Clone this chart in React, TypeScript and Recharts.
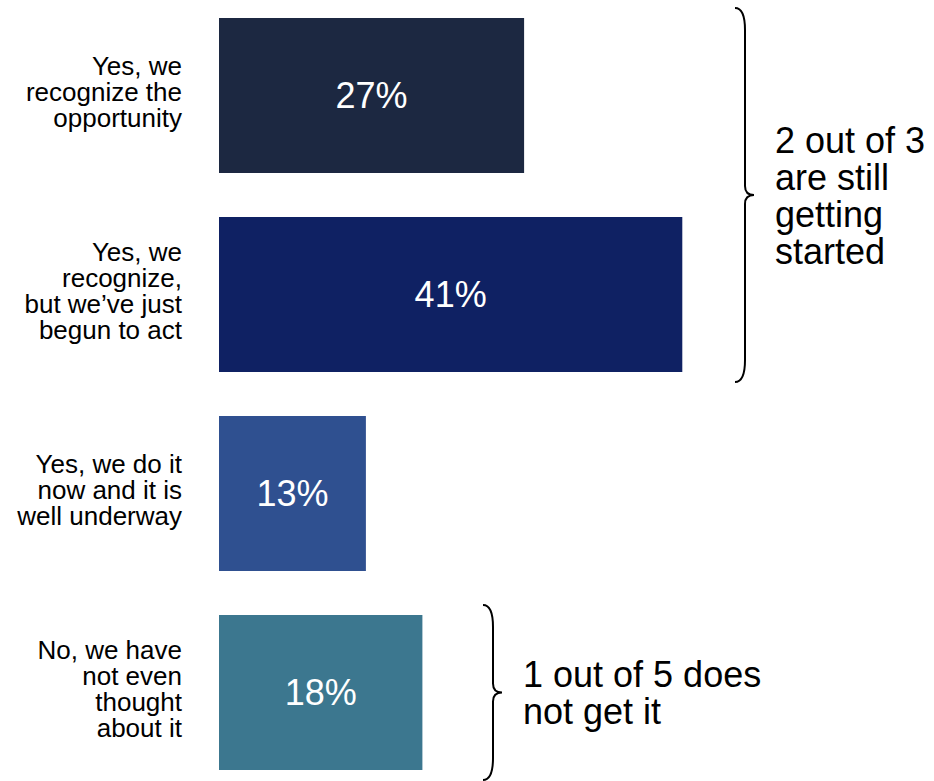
import { BarChart, Bar, XAxis, YAxis, LabelList, Cell } from "recharts";

const categories = [
  "Yes, we\nrecognize the\nopportunity",
  "Yes, we\nrecognize,\nbut we\u2019ve just\nbegun to act",
  "Yes, we do it\nnow and it is\nwell underway",
  "No, we have\nnot even\nthought\nabout it",
];
const shares = [27, 41, 13, 18];
const barColors = ["#1c2841", "#0f2163", "#2f5090", "#3c778f"];

// which bars each brace covers, and what it says
const braceTexts = [
  ["2 out of 3", "are still", "getting", "started"],
  ["1 out of 5 does", "not get it"],
];
const braceSpans = [
  [0, 1],
  [3, 3],
];

const data = categories.map((name, i) => ({ name, value: shares[i] }));

const FONT = "'Liberation Sans', Arial, Helvetica, sans-serif";
const W = 934;
const H = 796;
const TOP = -4;
const AXIS_W = 219;
const BAR = 155;
const LINE_H = 26;
const BAND = H / categories.length;
const BRACE_X = [735, 483];
const BRACE_PAD = 10;

const bandCenter = (i: number) => TOP + BAND * (i + 0.5);

function CategoryTick({ x, y, payload }: any) {
  const lines = String(payload.value).split("\n");
  const first = -((lines.length - 1) / 2) * LINE_H + 5;
  return (
    <text x={x} y={y} textAnchor="end" fontSize={26} fill="#000" fontFamily={FONT}>
      {lines.map((l, i) => (
        <tspan key={i} x={x} dy={i === 0 ? first : LINE_H}>
          {l}
        </tspan>
      ))}
    </text>
  );
}

function bracePath(x: number, y0: number, y1: number) {
  const d = 10;
  const tip = 19;
  const r = 22;
  const rm = 9;
  const ym = (y0 + y1) / 2;
  return [
    `M ${x} ${y0}`,
    `Q ${x + d} ${y0} ${x + d} ${y0 + r}`,
    `L ${x + d} ${ym - rm}`,
    `Q ${x + d} ${ym} ${x + tip} ${ym}`,
    `Q ${x + d} ${ym} ${x + d} ${ym + rm}`,
    `L ${x + d} ${y1 - r}`,
    `Q ${x + d} ${y1} ${x} ${y1}`,
  ].join(" ");
}

function Braces() {
  return (
    <svg width={W} height={781} style={{ position: "absolute", left: 0, top: 0 }}>
      {braceSpans.map(([a, b], k) => {
        const y0 = bandCenter(a) - BAR / 2 - BRACE_PAD;
        const y1 = bandCenter(b) + BAR / 2 + BRACE_PAD;
        const x = BRACE_X[k];
        const ym = (y0 + y1) / 2;
        const lines = braceTexts[k];
        const lh = 37;
        const first = ym + 13 - ((lines.length - 1) / 2) * lh;
        return (
          <g key={k}>
            <path d={bracePath(x, y0, y1)} fill="none" stroke="#000" strokeWidth={2} />
            <text x={x + 40} y={first} fontSize={36} fill="#000" fontFamily={FONT}>
              {lines.map((l, i) => (
                <tspan key={i} x={x + 40} dy={i === 0 ? 0 : lh}>
                  {l}
                </tspan>
              ))}
            </text>
          </g>
        );
      })}
    </svg>
  );
}

export default function App() {
  return (
    <div
      style={{
        position: "fixed",
        left: 0,
        top: 0,
        width: W,
        height: 781,
        overflow: "hidden",
        background: "#fff",
      }}
    >
      <div style={{ position: "absolute", left: 0, top: TOP }}>
        <BarChart
          width={W}
          height={H}
          data={data}
          layout="vertical"
          margin={{ top: 0, right: 150, bottom: 0, left: 0 }}
        >
          <XAxis type="number" domain={[0, 50]} hide />
          <YAxis
            type="category"
            dataKey="name"
            width={AXIS_W}
            axisLine={false}
            tickLine={false}
            tickSize={0}
            tickMargin={37}
            interval={0}
            tick={<CategoryTick />}
          />
          <Bar dataKey="value" barSize={BAR} isAnimationActive={false}>
            {data.map((_, i) => (
              <Cell key={i} fill={barColors[i]} />
            ))}
            <LabelList
              dataKey="value"
              position="center"
              fill="#fff"
              fontSize={36}
              fontFamily={FONT}
              formatter={(v: any) => `${v}%`}
            />
          </Bar>
        </BarChart>
      </div>
      <Braces />
    </div>
  );
}
